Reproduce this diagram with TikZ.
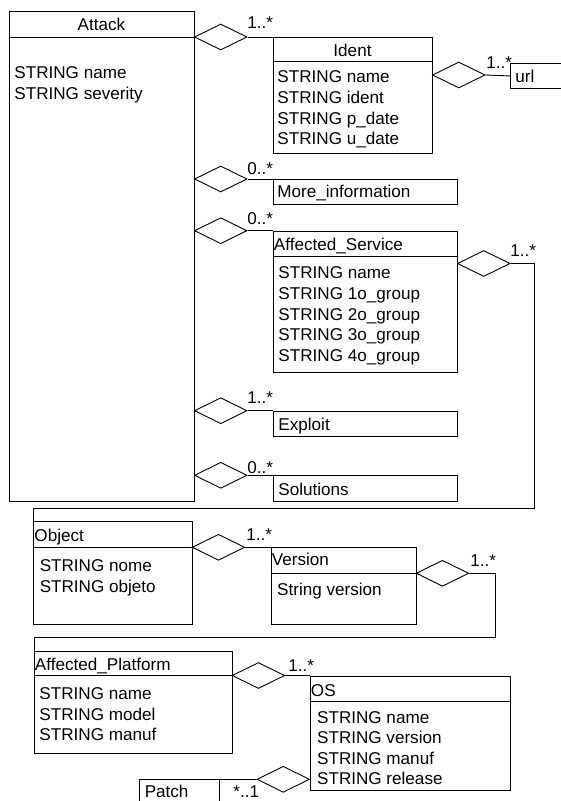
\documentclass[tikz,border=0pt]{standalone}
\usepackage{fontspec}
\setmainfont{Liberation Sans}
\usepackage{tikz}
\usetikzlibrary{shapes.geometric}
\usetikzlibrary{positioning}
\tikzset{cls/.style = {draw, rectangle, inner sep = 0, anchor = north west},
  agg/.style = {draw, diamond, inner sep = 0, minimum width = 52.6, minimum height = 26, anchor = west},
  txt/.style = {inner sep = 0, anchor = north west, align = left},
  mult/.style = {inner sep = 0, anchor = north west}}

\begin{document}
\begin{tikzpicture}[x = 1pt, y = -1pt, line width = 0.9pt,
    font = \fontsize{17.1}{20.6}\selectfont]
  \useasboundingbox (0, 0) rectangle (560, 801);

  \node [cls, minimum width = 185, minimum height = 490] (attack) at (9, 11) {};
  \node [cls, minimum width = 159, minimum height = 116] (ident) at (273, 37) {};
  \node [cls, minimum width = 80, minimum height = 25] (url) at (510, 63) {};
  \node [cls, minimum width = 184, minimum height = 25] (moreinfo) at (273, 179) {};
  \node [cls, minimum width = 184, minimum height = 141.3] (service) at (273, 230.7) {};
  \node [cls, minimum width = 184, minimum height = 25.3] (exploit) at (273, 410.7) {};
  \node [cls, minimum width = 184, minimum height = 25.7] (solutions) at (273, 475.3) {};
  \node [cls, minimum width = 158.4, minimum height = 103.3] (object) at (33.3, 521) {};
  \node [cls, minimum width = 145, minimum height = 77] (version) at (270.7, 547.3) {};
  \node [cls, minimum width = 197.7, minimum height = 102.6] (platform) at (34, 650.7) {};
  \node [cls, minimum width = 200, minimum height = 114.5] (os) at (310, 675.5) {};
  \node [cls, minimum width = 80, minimum height = 40] (patch) at (139, 779.3) {};

  \draw ([yshift = -26]attack.north west) -- ([yshift = -26]attack.north east);
  \draw ([yshift = -24.7]ident.north west) -- ([yshift = -24.7]ident.north east);
  \draw ([yshift = -25.3]service.north west) -- ([yshift = -25.3]service.north east);
  \draw ([yshift = -26.3]object.north west) -- ([yshift = -26.3]object.north east);
  \draw ([yshift = -26]version.north west) -- ([yshift = -26]version.north east);
  \draw ([yshift = -24.3]platform.north west) -- ([yshift = -24.3]platform.north east);
  \draw ([yshift = -26.2]os.north west) -- ([yshift = -26.2]os.north east);

  \node [txt, anchor = north] (attacktitle) at (101.5, 17.4) {Attack};
  \node [txt] (attackattr) at (14, 66.6) {STRING name\\STRING severity};
  \node [txt, anchor = north] (identtitle) at (352.5, 43.9) {Ident};
  \node [txt] (identattr) at (277, 70.6) {STRING name\\STRING ident\\STRING p\_date\\STRING u\_date};
  \node [txt] (urltitle) at (515, 69.4) {url};
  \node [txt] (moreinfotitle) at (277, 185) {More\_information};
  \node [txt] (servicetitle) at (273.5, 237.2) {Affected\_Service};
  \node [txt] (serviceattr) at (278, 266.6) {STRING name\\STRING 1o\_group\\STRING 2o\_group\\STRING 3o\_group\\STRING 4o\_group};
  \node [txt] (exploittitle) at (278, 417.9) {Exploit};
  \node [txt] (solutionstitle) at (278, 482.2) {Solutions};
  \node [txt] (objecttitle) at (34, 528.9) {Object};
  \node [txt] (objectattr) at (39.3, 559.6) {STRING nome\\STRING objeto};
  \node [txt] (versiontitle) at (271.5, 552.9) {Version};
  \node [txt] (versionattr) at (276.7, 582.2) {String version};
  \node [txt] (platformtitle) at (34.5, 657.2) {Affected\_Platform};
  \node [txt] (platformattr) at (39, 687.2) {STRING name\\STRING model\\STRING manuf};
  \node [txt] (ostitle) at (310.5, 683.9) {OS};
  \node [txt] (osattr) at (316.7, 710.6) {STRING name\\STRING version\\STRING manuf\\STRING release};
  \node [txt] (patchtitle) at (144.3, 784.6) {Patch};

  \node [agg] (d1) at (194, 37) {};
  \node [agg] (d2) at (432, 75) {};
  \node [agg] (d3) at (194, 179) {};
  \node [agg] (d4) at (194, 230.7) {};
  \node [agg] (d5) at (457, 263.5) {};
  \node [agg] (d6) at (194, 410.7) {};
  \node [agg] (d7) at (194, 475.3) {};
  \node [agg] (d8) at (191.7, 547.3) {};
  \node [agg] (d9) at (415.7, 573.3) {};
  \node [agg] (d10) at (231.7, 675.5) {};
  \node [agg, anchor = east] (d11) at (310, 779.3) {};

  \coordinate (bendA) at (534.3, 508.3);
  \coordinate (bendB) at (495, 637.7);

  \draw (d1.east) -- (ident.north west);
  \draw (d2.east) -- (url.west);
  \draw (d3.east) -- (moreinfo.north west);
  \draw (d4.east) -- (service.north west);
  \draw (d5.east) -| (bendA) -| (object.north west);
  \draw (d6.east) -- (exploit.north west);
  \draw (d7.east) -- (solutions.north west);
  \draw (d8.east) -- (version.north west);
  \draw (d9.east) -| (bendB) -| (platform.north west);
  \draw (d10.east) -- (os.north west);
  \draw (patch.north east) -- (d11.west);

  \node [mult] (m1) at (247, 15.9) {1..*};
  \node [mult] (m2) at (486, 56.4) {1..*};
  \node [mult] (m3) at (247, 162) {0..*};
  \node [mult] (m4) at (247, 212) {0..*};
  \node [mult] (m5) at (510, 244) {1..*};
  \node [mult] (m6) at (247, 391.6) {1..*};
  \node [mult] (m7) at (247, 460.8) {0..*};
  \node [mult] (m8) at (246, 527.9) {1..*};
  \node [mult] (m9) at (470, 553.9) {1..*};
  \node [mult] (m10) at (288, 659) {1..*};
  \node [mult] (m11) at (233, 785) {*..1};
\end{tikzpicture}
\end{document}
